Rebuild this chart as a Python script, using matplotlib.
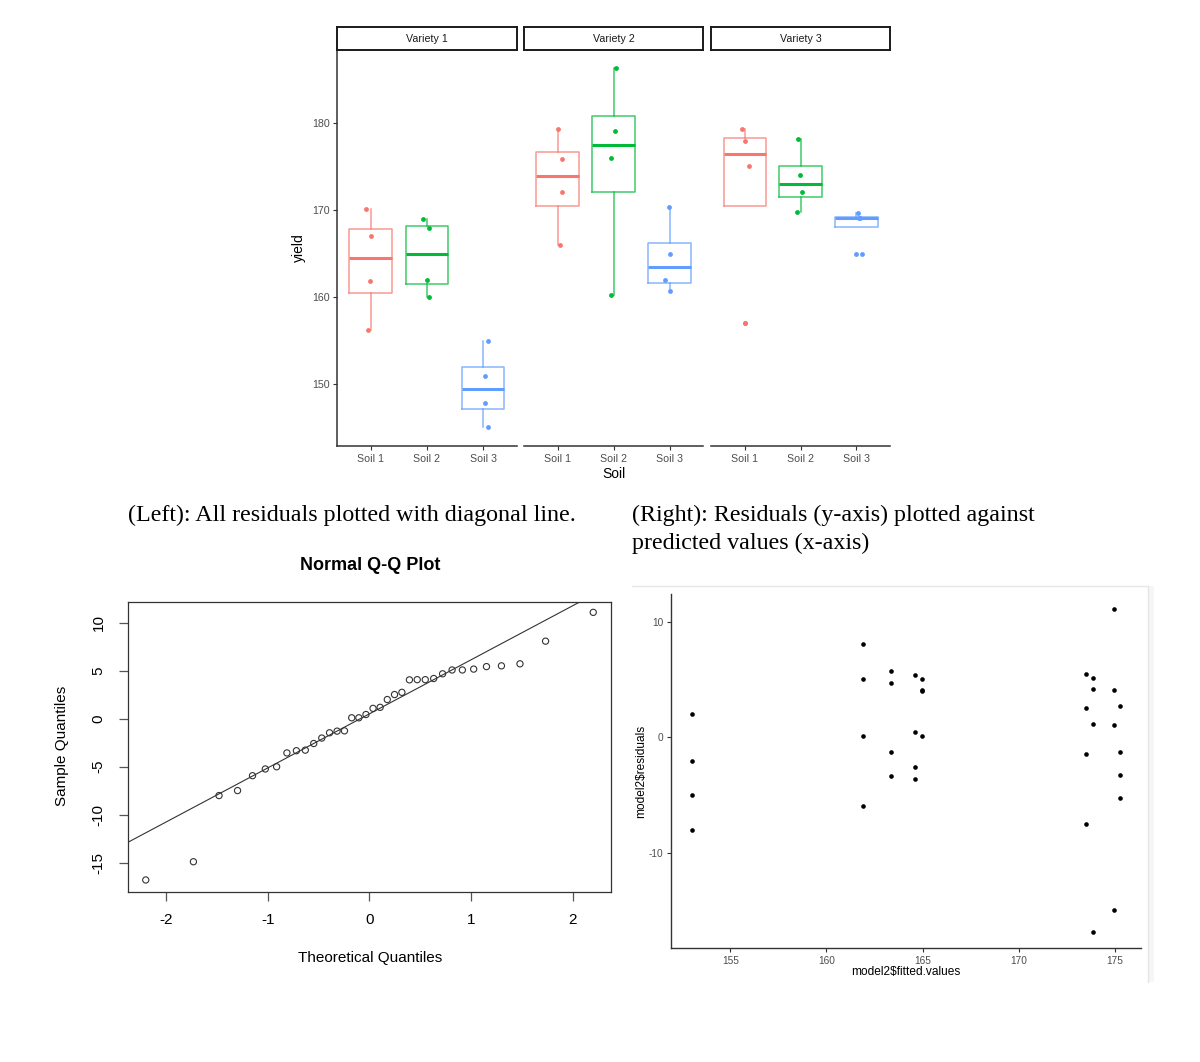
import matplotlib
matplotlib.use("Agg")
import matplotlib.pyplot as plt
import numpy as np
from statistics import NormalDist
from matplotlib.lines import Line2D

# ---------------- data ----------------
varieties = ["Variety 1", "Variety 2", "Variety 3"]
soils = ["Soil 1", "Soil 2", "Soil 3"]

# yield values per soil (4 plots each) for each variety
yield_v1 = [[156.2, 161.9, 167.0, 170.1],
            [160.05, 162.0, 167.9, 169.0],
            [145.1, 147.9, 151.0, 155.0]]
yield_v2 = [[166.0, 172.0, 175.8, 179.3],
            [160.3, 175.9, 179.0, 186.3],
            [160.7, 162.0, 164.9, 170.3]]
yield_v3 = [[157.0, 175.0, 177.9, 179.3],
            [169.8, 172.0, 174.0, 178.1],
            [165.0, 169.05, 169.1, 169.6]]

# horizontal jitter of the plotted points
jitter_v1 = [[-0.053, -0.018, 0.0, -0.083], [0.03, -0.006, 0.03, -0.071], [0.083, 0.03, 0.042, 0.083]]
jitter_v2 = [[0.047, 0.083, 0.083, 0.0], [-0.047, -0.041, 0.018, 0.041], [0.012, -0.083, 0.012, -0.012]]
jitter_v3 = [[0.012, 0.071, 0.012, -0.042], [-0.071, 0.024, -0.018, -0.042], [0.09, 0.05, 0.06, 0.03]]

# model2 fitted values (one per cell) and residuals (4 per cell)
fitted_values = [152.99, 161.92, 163.35, 164.62, 164.95, 173.51, 173.88, 174.96, 175.28]
residuals = [[1.99, -2.02, -5.01, -8.01],
             [8.07, 5.07, 0.09, -5.94],
             [5.71, 4.67, -1.30, -3.34],
             [5.42, 0.43, -2.59, -3.57],
             [5.07, 4.06, 4.04, 0.09],
             [5.50, 2.51, -1.47, -7.49],
             [5.16, 4.18, 1.18, -16.80],
             [11.07, 4.06, 1.07, -14.90],
             [2.74, -1.27, -3.28, -5.24]]

qq_xticks = [-2, -1, 0, 1, 2]
qq_yticks = [-15, -10, -5, 0, 5, 10]
res_xticks = [155, 160, 165, 170, 175]
res_yticks = [-10, 0, 10]
yield_ticks = [150, 160, 170, 180]

# ---------------- figure ----------------
plt.rcParams['font.family'] = ['Liberation Sans', 'DejaVu Sans']
plt.rcParams['axes.unicode_minus'] = False
W, H = 1200, 1062
fig = plt.figure(figsize=(W / 100, H / 100), dpi=100)


def px_axes(l, t, r, b):
    return fig.add_axes([l / W, 1 - b / H, (r - l) / W, (b - t) / H])


def px_text(x, y, s, **kw):
    fig.text(x / W, 1 - y / H, s, **kw)


# ---------- faceted box plots ----------
colors = ['#F8766D', '#00BA38', '#619CFF']
grey_txt = '#4D4D4D'
axis_col = '#333333'
panel_x = [(337, 516.7), (524, 703.3), (711.3, 890)]
yields = [yield_v1, yield_v2, yield_v3]
jitters = [jitter_v1, jitter_v2, jitter_v3]

for i in range(3):
    l, r = panel_x[i]
    ax = px_axes(l, 49.7, r, 446)
    data = yields[i]
    pos = np.arange(1, len(soils) + 1)
    bp = ax.boxplot(data, positions=pos, widths=0.76, whis=1.5,
                    manage_ticks=False)
    for k in range(3):
        c = colors[k]
        bp['boxes'][k].set(color=c, lw=1.1, alpha=0.75)
        bp['medians'][k].set(color=c, lw=2.2, solid_capstyle='butt')
        for w in bp['whiskers'][2 * k:2 * k + 2]:
            w.set(color=c, lw=1.1, alpha=0.75)
        for cap in bp['caps'][2 * k:2 * k + 2]:
            cap.set_visible(False)
        bp['fliers'][k].set(marker='o', markerfacecolor=c, markeredgecolor=c,
                            markersize=3.5, markeredgewidth=0)
        ax.scatter(pos[k] + np.array(jitters[i][k]), data[k], s=12, color=c,
                   zorder=3, linewidths=0)
    ax.set_xlim(0.4, 3.6)
    ax.set_ylim(142.93, 188.37)
    for s in ['top', 'right']:
        ax.spines[s].set_visible(False)
    ax.spines['bottom'].set(color=axis_col, lw=1.1)
    ax.set_xticks(pos)
    ax.set_xticklabels(soils)
    ax.tick_params(axis='x', length=2.8, width=0.8, color=axis_col,
                   labelsize=7.7, labelcolor=grey_txt, pad=3)
    if i == 0:
        ax.spines['left'].set(color=axis_col, lw=1.1)
        ax.set_yticks(yield_ticks)
        ax.tick_params(axis='y', length=2.8, width=0.8, color=axis_col,
                       labelsize=7.7, labelcolor=grey_txt, pad=2.5)
    else:
        ax.spines['left'].set_visible(False)
        ax.set_yticks([])
    # strip
    sax = px_axes(l, 27.3, r, 49.7)
    sax.set_xticks([])
    sax.set_yticks([])
    for s in sax.spines.values():
        s.set(color='#1A1A1A', lw=1.4)
    sax.text(0.5, 0.5, varieties[i], ha='center', va='center', fontsize=7.7,
             color='#1A1A1A', transform=sax.transAxes)

px_text(613.5, 474, "Soil", ha='center', va='center', fontsize=10, color='black')
px_text(299, 248, "yield", ha='center', va='center', fontsize=10, rotation=90,
        color='black')

# ---------- captions ----------
serif = ['Liberation Serif', 'DejaVu Serif']
px_text(128, 521, "(Left): All residuals plotted with diagonal line.",
        family=serif, fontsize=17.3, ha='left', va='baseline')
px_text(632, 521, "(Right): Residuals (y-axis) plotted against",
        family=serif, fontsize=17.3, ha='left', va='baseline')
px_text(632, 548.5, "predicted values (x-axis)",
        family=serif, fontsize=17.3, ha='left', va='baseline')

# ---------- Normal Q-Q plot ----------
all_res = np.sort(np.concatenate([np.array(r_) for r_ in residuals]))
n = len(all_res)
nd = NormalDist()
theo = np.array([nd.inv_cdf((j + 0.5) / n) for j in range(n)])
q1, q3 = np.percentile(all_res, [25, 75])
t1, t3 = nd.inv_cdf(0.25), nd.inv_cdf(0.75)
slope = (q3 - q1) / (t3 - t1)

qax = px_axes(128, 601.5, 611.5, 891.5)
qax.scatter(theo, all_res, s=20, facecolors='none', edgecolors='#333333',
            linewidths=0.8, zorder=3)
qax.axline((t1, q1), slope=slope, color='#333333', lw=0.8)
qax.set_xlim(-2.375, 2.38)
qax.set_ylim(-18.0, 12.2)
for s in qax.spines.values():
    s.set(color='#333333', lw=0.9)
qax.set_xticks(qq_xticks)
qax.set_xticklabels([str(v) for v in qq_xticks])
qax.set_yticks(qq_yticks)
qax.set_yticklabels([str(v) for v in qq_yticks], rotation=90, va='center')
qax.tick_params(axis='x', length=6.5, width=0.9, color='#555555', labelsize=11,
                labelcolor='black', pad=9)
qax.tick_params(axis='y', length=6.5, width=0.9, color='#555555', labelsize=11,
                labelcolor='black', pad=9.5)
px_text(370, 566, "Normal Q-Q Plot", ha='center', va='center', fontsize=13,
        fontweight='bold')
px_text(370, 958, "Theoretical Quantiles", ha='center', va='center', fontsize=11)
px_text(62, 746, "Sample Quantiles", ha='center', va='center', fontsize=11,
        rotation=90)

# ---------- residuals vs fitted ----------
# light frame of the plot pane
fig.add_artist(Line2D([632 / W, 1148 / W], [1 - 586 / H, 1 - 586 / H],
                      transform=fig.transFigure, color='#E6E6E6', lw=1.0))
fig.add_artist(Line2D([1148 / W, 1148 / W], [1 - 586 / H, 1 - 982 / H],
                      transform=fig.transFigure, color='#E6E6E6', lw=1.0))
fig.add_artist(plt.Rectangle((1148.5 / W, 1 - 982 / H), 5 / W, 396 / H,
                             transform=fig.transFigure, color='#F6F6F8', lw=0))

rax = px_axes(670.5, 593.5, 1140.5, 948.3)
fx = np.repeat(fitted_values, [len(r_) for r_ in residuals])
ry = np.concatenate([np.array(r_) for r_ in residuals])
rax.scatter(fx, ry, s=11, color='black', linewidths=0, zorder=3)
rax.set_xlim(151.89, 176.34)
rax.set_ylim(-18.24, 12.45)
for s in ['top', 'right']:
    rax.spines[s].set_visible(False)
for s in ['left', 'bottom']:
    rax.spines[s].set(color=axis_col, lw=1.0)
rax.set_xticks(res_xticks)
rax.set_yticks(res_yticks)
rax.tick_params(length=2.8, width=0.8, color=axis_col, labelsize=7.3,
                labelcolor=grey_txt, pad=2.5)
px_text(905.5, 971.5, "model2\\$fitted.values", ha='center', va='center',
        fontsize=8.6, color='black')
px_text(641, 771, "model2\\$residuals", ha='center', va='center',
        fontsize=8.6, rotation=90, color='black')

fig.savefig("out.png", dpi=100, facecolor='white')
